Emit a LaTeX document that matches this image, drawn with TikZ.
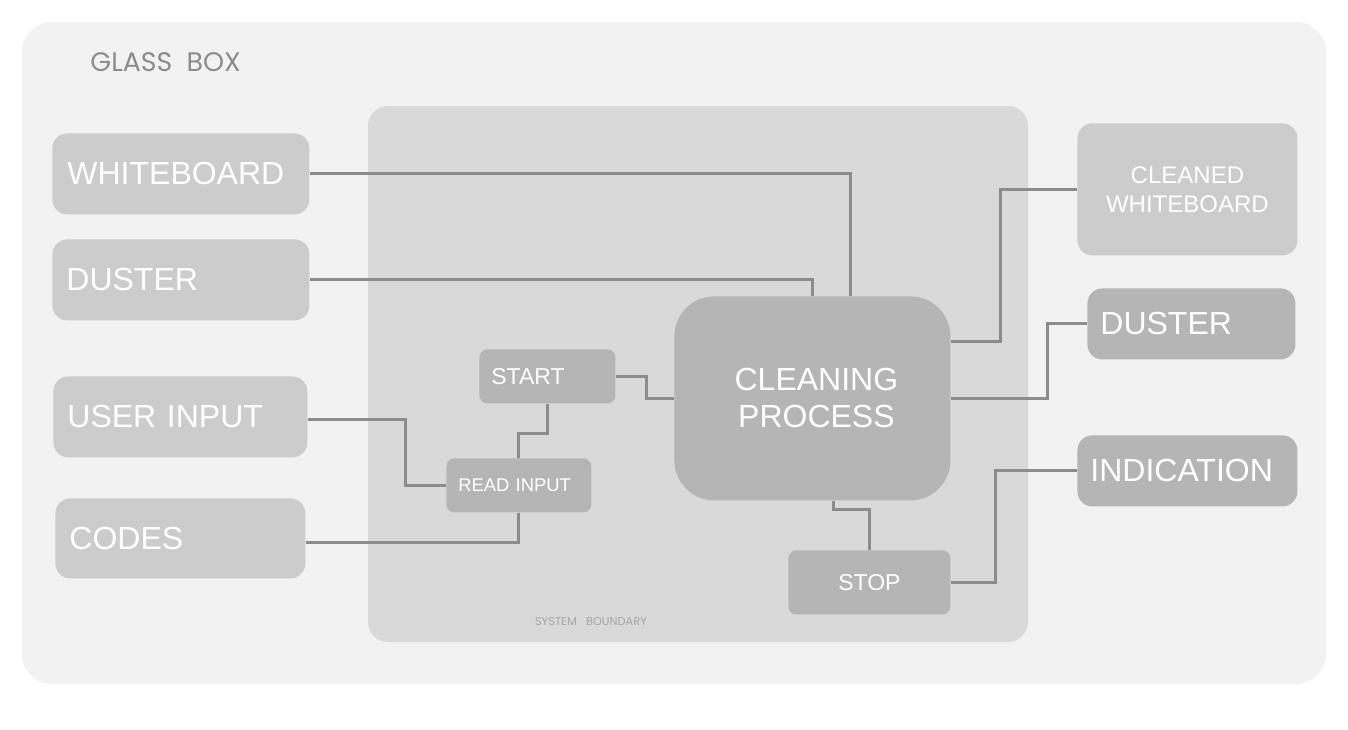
\documentclass[tikz,border=0pt]{standalone}
\usepackage{fontspec}
\setmainfont{Liberation Sans}
\newfontfamily\poppfont{Poppins}
\usetikzlibrary{calc}
\definecolor{outerbg}{HTML}{F2F2F2}
\definecolor{sysbg}{HTML}{D9D9D9}
\definecolor{lightbox}{HTML}{CCCCCC}
\definecolor{darkbox}{HTML}{B5B5B5}
\definecolor{wire}{HTML}{8C8C8C}
\definecolor{labelgray}{HTML}{8C8C8C}
\definecolor{sysgray}{HTML}{A6A6A6}
\tikzset{
  basebox/.style={draw=none, text=white, anchor=north west, inner ysep=0pt},
  bigbox/.style={basebox, fill=lightbox, rounded corners=7.5pt, font=\fontsize{16}{18.5}\selectfont, align=left},
  rightbox/.style={basebox, fill=darkbox, rounded corners=7.5pt, font=\fontsize{16}{18.5}\selectfont, align=left},
  smallbox/.style={basebox, fill=darkbox, rounded corners=4pt},
  wireline/.style={draw=wire, line width=1.5pt},
}
\begin{document}
\begin{tikzpicture}[x=0.5pt,y=-0.5pt]
\useasboundingbox (0,0) rectangle (1348,729);
% glass box
\fill[outerbg, rounded corners=15pt] (22,22) rectangle (1326,684);
\node[anchor=west, text=labelgray, font=\poppfont\fontsize{13.4}{15}\selectfont, inner sep=0pt] (glass) at (90,62) {GLASS\ \ BOX};
% system boundary
\fill[sysbg, rounded corners=10pt] (368,106) rectangle (1028,642);
\node[text=sysgray, font=\poppfont\fontsize{5.7}{7}\selectfont, inner sep=0pt] (sysb) at (591,622) {SYSTEM\ \ \ BOUNDARY};

% left inputs
\node[bigbox, minimum width=128.5pt, minimum height=40.5pt, text width=113.5pt, inner xsep=7.5pt] (wb) at (52,133) {WHITEBOARD};
\node[bigbox, minimum width=128.5pt, minimum height=40.5pt, text width=114.5pt, inner xsep=7pt] (dl) at (52,239) {DUSTER};
\node[bigbox, minimum width=127pt, minimum height=40.5pt, text width=113pt, inner xsep=7pt] (ui) at (53,376) {USER INPUT};
\node[bigbox, minimum width=125pt, minimum height=40pt, text width=111pt, inner xsep=7pt] (codes) at (55,498) {CODES};

% right outputs
\node[basebox, fill=lightbox, rounded corners=7.5pt, minimum width=110pt, minimum height=66pt, text width=100pt, inner xsep=5pt, align=center, font=\fontsize{12}{14.5}\selectfont] (cw) at (1077,123) {CLEANED\\WHITEBOARD};
\node[rightbox, minimum width=104pt, minimum height=35.5pt, text width=91pt, inner xsep=6.5pt] (dr) at (1087,288) {DUSTER};
\node[rightbox, minimum width=110pt, minimum height=35.5pt, text width=97pt, inner xsep=6.5pt] (ind) at (1077,435) {INDICATION};

% process nodes
\node[basebox, fill=darkbox, rounded corners=20pt, minimum width=138pt, minimum height=102pt, text width=128pt, inner xsep=5pt, align=center, font=\fontsize{16}{18.5}\selectfont] (clean) at (674,296) {\hspace*{4pt}CLEANING\\\hspace*{4pt}PROCESS};
\node[smallbox, minimum width=68pt, minimum height=27pt, text width=56pt, inner xsep=6pt, align=left, font=\fontsize{11.5}{13}\selectfont] (st) at (479,349) {START};
\node[smallbox, minimum width=72.5pt, minimum height=27pt, text width=60.5pt, inner xsep=6pt, align=left, font=\fontsize{9.2}{11}\selectfont] (ri) at (446,458) {READ INPUT};
\node[smallbox, minimum width=81pt, minimum height=32pt, text width=71pt, inner xsep=5pt, align=center, font=\fontsize{11.5}{13}\selectfont] (stop) at (788,550) {STOP};

% connectors
\draw[wireline] (wb.east) -| ([xshift=19pt]clean.north);
\draw[wireline] (dl.east) -| (clean.north);
\draw[wireline] ([yshift=-1.2pt]ui.east) -- ++(49pt,0) |- (ri.west);
\draw[wireline] ([yshift=-2pt]codes.east) -| (ri.south);
\draw[wireline] (ri.north) -- ++(0,12.5pt) -| (st.south);
\draw[wireline] (st.east) -- ++(15.5pt,0) |- (clean.west);
\draw[wireline] ([xshift=10.5pt]clean.south) -- ++(0,-4.5pt) -| (stop.north);
\draw[wireline] (stop.east) -- ++(22.5pt,0) |- (ind.west);
\draw[wireline] (clean.east) -- ++(48.5pt,0) |- (dr.west);
\draw[wireline] ([yshift=28.5pt]clean.east) -- ++(25pt,0) |- (cw.west);
\end{tikzpicture}
\end{document}
